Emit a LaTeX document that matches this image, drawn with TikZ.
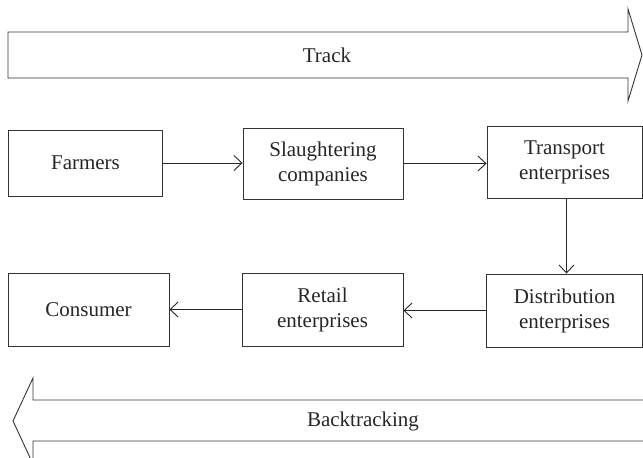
\documentclass[tikz,border=0pt]{standalone}
\usepackage{fontspec}
\setmainfont{Liberation Serif}
\usetikzlibrary{arrows.meta}
\begin{document}
\begin{tikzpicture}[x=1pt,y=-1pt,line width=0.9pt,
  txt/.style={font=\fontsize{21}{25}\selectfont, text=black!85, align=center, inner sep=0pt},
  box/.style={txt, draw=black!80, line width=0.9pt},
  flow/.style={draw=black!85, line width=0.9pt, -{Straight Barb[length=8pt,width=15pt,line width=0.9pt]}},
  bigarrow/.style={draw=black!80, line width=0.9pt, line join=miter}]
\useasboundingbox (0,0) rectangle (643,458);
% Track arrow
\draw[bigarrow] (8,32) -- (628,32) -- (628,9) -- (642,55) -- (628,101) -- (628,78) -- (8,78) -- cycle;
\node[txt] (track) at (327,55) {Track};
% Backtracking arrow
\draw[bigarrow] (650,400) -- (33,400) -- (33,378) -- (13,421) -- (33,464) -- (33,441) -- (650,441);
\node[txt] (back) at (363,421) {Backtracking};
% boxes
\node[box, minimum width=154pt, minimum height=66pt] (farm) at (85.5,163) {Farmers};
\node[box, minimum width=160pt, minimum height=71pt] (slau) at (323,163.5) {Slaughtering\\companies};
\node[box, minimum width=155pt, minimum height=72pt] (trans) at (564.5,162) {Transport\\enterprises};
\node[box, minimum width=161pt, minimum height=73pt] (cons) at (88.5,309.5) {Consumer};
\node[box, minimum width=161pt, minimum height=73pt] (ret) at (322.5,309.5) {Retail\\enterprises};
\node[box, minimum width=156pt, minimum height=73pt] (dist) at (564.5,310.5) {Distribution\\enterprises};
% connectors
\draw[flow] (farm.east) -- (farm.east -| slau.west);
\draw[flow] (slau.east) -- (slau.east -| trans.west);
\draw[flow] ([xshift=2pt]trans.south) -- ([xshift=2pt]trans.south |- dist.north);
\draw[flow] (dist.west) -- (dist.west -| ret.east);
\draw[flow] (ret.west) -- (ret.west -| cons.east);
\end{tikzpicture}
\end{document}
